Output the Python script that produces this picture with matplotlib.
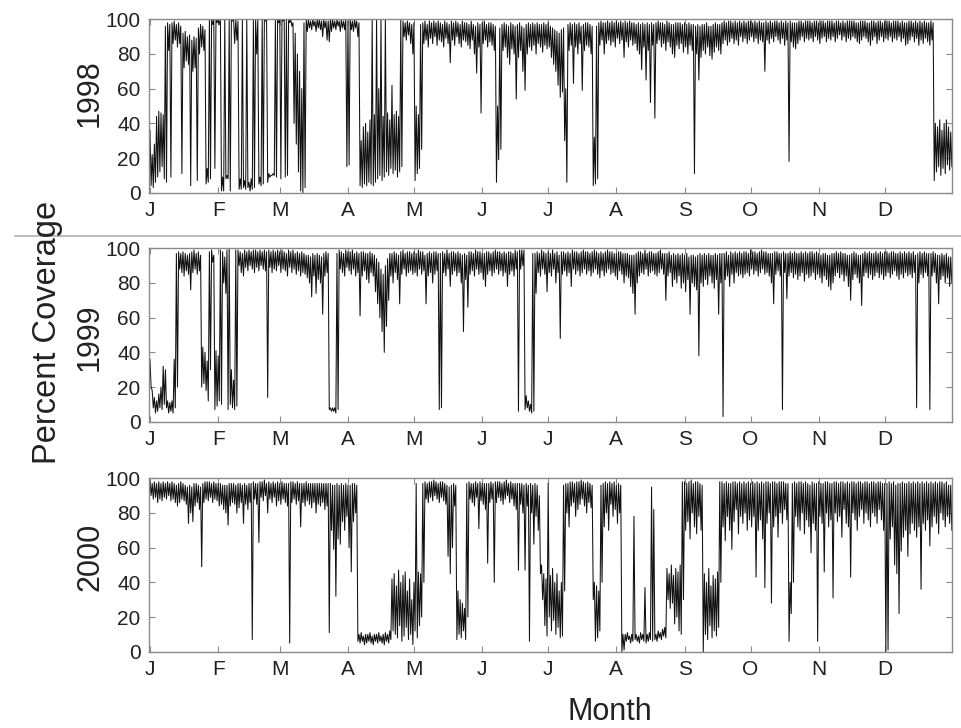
import numpy as np
import matplotlib
matplotlib.use('Agg')
import matplotlib.pyplot as plt
from matplotlib.lines import Line2D

plt.rcParams['font.family'] = ['Liberation Sans', 'DejaVu Sans']

# daily low / high percent coverage (day 1..365)
lo_1998 = [4, 3, 6, 9, 12, 15, 8, 6, 82, 9,
           86, 88, 84, 86, 11, 72, 76, 74, 4, 70,
           72, 7, 80, 84, 82, 5, 6, 8, 97, 14,
           98, 97, 1, 1, 8, 8, 1, 99, 86, 88,
           2, 2, 3, 2, 3, 1, 2, 3, 80, 5,
           4, 5, 99, 6, 9, 10, 10, 9, 98, 8,
           99, 9, 10, 98, 96, 40, 28, 12, 1, 0,
           3, 93, 95, 94, 96, 93, 95, 94, 90, 95,
           88, 87, 93, 95, 94, 96, 93, 95, 94, 15,
           16, 94, 93, 95, 90, 4, 3, 5, 4, 6,
           5, 4, 6, 8, 10, 7, 9, 12, 10, 14,
           11, 13, 9, 12, 15, 90, 88, 91, 86, 80,
           7, 11, 14, 25, 86, 88, 84, 89, 86, 90,
           85, 88, 87, 84, 89, 86, 75, 88, 85, 90,
           86, 84, 88, 87, 85, 83, 88, 80, 69, 84,
           46, 86, 88, 84, 87, 85, 82, 6, 19, 25,
           82, 84, 78, 74, 83, 80, 54, 78, 82, 70,
           59, 80, 84, 82, 85, 80, 86, 84, 81, 85,
           83, 84, 78, 74, 70, 62, 55, 58, 30, 6,
           82, 85, 63, 84, 80, 86, 59, 82, 85, 84,
           80, 4, 5, 8, 85, 88, 80, 86, 88, 85,
           87, 84, 89, 86, 88, 78, 87, 84, 88, 85,
           86, 82, 80, 71, 84, 65, 82, 52, 85, 43,
           86, 88, 84, 86, 82, 87, 84, 80, 78, 85,
           83, 86, 81, 84, 80, 85, 82, 11, 80, 65,
           78, 82, 80, 84, 79, 77, 81, 84, 82, 80,
           86, 88, 85, 87, 89, 86, 88, 85, 90, 87,
           89, 86, 88, 90, 87, 89, 86, 88, 87, 70,
           88, 86, 89, 87, 90, 88, 86, 89, 85, 88,
           18, 87, 84, 83, 86, 88, 90, 87, 89, 88,
           89, 87, 90, 88, 86, 89, 90, 87, 89, 88,
           90, 87, 89, 91, 88, 90, 87, 89, 88, 90,
           89, 87, 86, 88, 90, 89, 87, 85, 88, 90,
           86, 88, 90, 87, 89, 88, 90, 87, 89, 88,
           90, 87, 89, 85, 86, 88, 90, 87, 89, 85,
           88, 86, 89, 87, 85, 88, 7, 12, 15, 10,
           14, 11, 16, 13, 15]
hi_1998 = [36, 22, 28, 44, 47, 46, 45, 96, 98, 97,
           98, 99, 97, 98, 96, 92, 93, 90, 91, 88,
           90, 89, 95, 97, 96, 94, 14, 100, 100, 100,
           100, 100, 100, 9, 100, 10, 100, 100, 100, 100,
           99, 8, 100, 7, 100, 6, 8, 100, 100, 100,
           9, 100, 100, 100, 11, 10, 11, 100, 100, 100,
           100, 100, 100, 100, 100, 98, 92, 80, 70, 60,
           98, 100, 100, 99, 100, 99, 100, 100, 99, 100,
           99, 99, 100, 100, 99, 100, 99, 100, 99, 100,
           99, 100, 99, 100, 99, 98, 30, 38, 40, 35,
           42, 100, 45, 100, 60, 100, 44, 100, 46, 42,
           62, 45, 47, 44, 100, 99, 98, 99, 98, 97,
           98, 50, 45, 97, 98, 99, 97, 99, 98, 99,
           98, 99, 98, 97, 99, 98, 97, 99, 98, 99,
           98, 97, 99, 98, 98, 97, 99, 97, 96, 98,
           97, 98, 99, 97, 98, 98, 97, 96, 50, 95,
           97, 98, 97, 96, 98, 97, 96, 97, 98, 96,
           95, 97, 98, 97, 98, 97, 98, 97, 97, 98,
           97, 98, 96, 95, 94, 93, 92, 94, 95, 60,
           97, 98, 97, 98, 97, 98, 96, 97, 98, 98,
           97, 96, 32, 96, 98, 99, 98, 98, 99, 98,
           99, 98, 99, 98, 99, 98, 99, 98, 99, 98,
           98, 97, 98, 97, 98, 97, 98, 97, 98, 97,
           98, 99, 98, 98, 97, 99, 98, 97, 97, 98,
           98, 98, 97, 98, 97, 98, 97, 97, 96, 97,
           96, 97, 97, 98, 96, 96, 97, 98, 97, 97,
           98, 99, 98, 99, 99, 98, 99, 98, 99, 98,
           99, 98, 99, 99, 98, 99, 98, 99, 98, 98,
           99, 98, 99, 98, 99, 99, 98, 99, 98, 99,
           98, 99, 98, 98, 98, 99, 99, 98, 99, 99,
           99, 98, 99, 99, 98, 99, 99, 98, 99, 99,
           99, 98, 99, 99, 98, 99, 98, 99, 99, 99,
           99, 98, 98, 99, 99, 99, 98, 98, 99, 99,
           98, 99, 99, 98, 99, 99, 99, 98, 99, 99,
           99, 98, 99, 98, 98, 99, 99, 98, 99, 98,
           99, 98, 99, 98, 98, 99, 98, 40, 38, 42,
           36, 40, 42, 38, 35]

lo_1999 = [20, 8, 5, 6, 8, 7, 10, 8, 5, 6,
           5, 8, 20, 88, 86, 84, 87, 85, 76, 86,
           88, 85, 87, 20, 22, 18, 12, 30, 92, 7,
           9, 12, 10, 80, 74, 7, 10, 8, 7, 9,
           90, 86, 84, 89, 87, 90, 88, 86, 89, 87,
           90, 88, 87, 14, 89, 86, 88, 87, 90, 86,
           88, 87, 84, 89, 86, 88, 85, 87, 84, 86,
           85, 83, 80, 72, 84, 74, 82, 80, 62, 84,
           86, 7, 6, 6, 5, 7, 88, 86, 84, 89,
           87, 85, 88, 84, 86, 61, 84, 87, 82, 80,
           86, 84, 75, 68, 60, 52, 40, 55, 70, 84,
           80, 86, 82, 68, 85, 88, 84, 86, 87, 85,
           86, 84, 88, 85, 87, 68, 84, 86, 80, 85,
           87, 7, 8, 86, 84, 88, 78, 85, 87, 84,
           86, 80, 52, 82, 66, 85, 87, 84, 88, 85,
           86, 82, 78, 85, 87, 84, 86, 88, 85, 87,
           84, 86, 78, 85, 87, 84, 88, 6, 88, 90,
           7, 8, 6, 5, 6, 74, 86, 84, 88, 85,
           75, 86, 84, 88, 80, 86, 48, 85, 87, 84,
           86, 78, 88, 85, 87, 84, 86, 88, 85, 87,
           84, 86, 88, 85, 83, 87, 84, 86, 88, 85,
           86, 84, 82, 87, 85, 80, 84, 83, 78, 74,
           62, 80, 84, 86, 85, 88, 84, 86, 87, 85,
           84, 86, 88, 85, 70, 84, 86, 78, 82, 80,
           84, 77, 80, 75, 82, 62, 80, 78, 76, 38,
           80, 78, 82, 79, 84, 80, 77, 82, 62, 80,
           3, 82, 84, 78, 85, 80, 86, 84, 85, 83,
           85, 86, 84, 88, 85, 87, 84, 86, 88, 85,
           86, 84, 80, 68, 85, 87, 84, 7, 86, 71,
           84, 86, 83, 85, 82, 84, 86, 81, 85, 83,
           84, 86, 82, 85, 83, 80, 84, 82, 78, 76,
           80, 84, 86, 83, 85, 81, 84, 78, 70, 82,
           85, 83, 80, 67, 84, 86, 83, 85, 82, 84,
           86, 83, 85, 82, 84, 86, 83, 85, 87, 84,
           82, 85, 83, 86, 84, 85, 83, 86, 8, 80,
           85, 83, 86, 84, 7, 84, 86, 80, 68, 82,
           84, 80, 83, 78, 80]
hi_1999 = [36, 18, 14, 12, 16, 20, 32, 30, 12, 11,
           12, 36, 97, 98, 97, 98, 97, 96, 97, 98,
           99, 97, 98, 96, 43, 40, 35, 98, 99, 96,
           41, 38, 99, 98, 95, 99, 100, 30, 24, 99,
           99, 98, 97, 99, 98, 99, 98, 99, 99, 98,
           99, 98, 99, 98, 99, 98, 99, 98, 99, 98,
           99, 98, 97, 99, 98, 99, 97, 98, 97, 98,
           97, 96, 96, 95, 97, 96, 97, 96, 95, 97,
           98, 97, 8, 8, 8, 97, 99, 98, 97, 99,
           98, 98, 99, 97, 98, 97, 98, 98, 97, 97,
           98, 97, 96, 94, 92, 88, 85, 90, 94, 97,
           97, 98, 97, 96, 98, 99, 97, 98, 98, 97,
           98, 97, 99, 98, 98, 96, 97, 98, 97, 98,
           98, 97, 97, 98, 97, 99, 97, 98, 98, 97,
           98, 97, 96, 97, 96, 98, 98, 97, 99, 98,
           98, 97, 97, 98, 98, 97, 98, 99, 98, 98,
           97, 98, 97, 98, 98, 97, 99, 98, 99, 99,
           99, 15, 12, 10, 97, 97, 98, 97, 99, 98,
           97, 98, 97, 99, 97, 98, 96, 98, 98, 97,
           98, 97, 99, 98, 98, 97, 98, 99, 98, 98,
           97, 98, 99, 98, 97, 98, 97, 98, 99, 98,
           98, 97, 97, 98, 98, 97, 97, 97, 96, 96,
           96, 97, 98, 98, 97, 99, 97, 98, 98, 97,
           97, 98, 99, 97, 97, 97, 98, 96, 97, 96,
           97, 96, 97, 96, 97, 95, 96, 96, 95, 96,
           97, 96, 97, 96, 97, 96, 96, 97, 96, 97,
           97, 97, 98, 96, 98, 97, 98, 97, 98, 97,
           98, 98, 97, 99, 98, 98, 97, 98, 99, 98,
           98, 97, 97, 97, 98, 98, 97, 97, 98, 97,
           97, 98, 97, 98, 97, 97, 98, 97, 98, 97,
           98, 98, 97, 98, 97, 96, 97, 97, 96, 96,
           97, 97, 98, 97, 98, 97, 97, 96, 96, 97,
           98, 97, 96, 96, 97, 98, 97, 98, 97, 97,
           98, 97, 98, 97, 98, 98, 97, 98, 98, 97,
           97, 98, 97, 98, 97, 98, 97, 98, 96, 97,
           98, 97, 98, 97, 97, 97, 98, 97, 96, 96,
           97, 96, 97, 95, 95]

lo_2000 = [90, 88, 89, 86, 88, 87, 89, 88, 90, 87,
           88, 86, 84, 86, 88, 87, 85, 74, 80, 75,
           84, 86, 82, 49, 86, 88, 87, 89, 86, 88,
           87, 84, 85, 82, 80, 73, 84, 86, 85, 80,
           83, 86, 74, 85, 82, 86, 7, 88, 85, 63,
           89, 87, 90, 80, 88, 86, 89, 84, 87, 85,
           88, 86, 84, 5, 86, 88, 85, 87, 72, 86,
           84, 87, 85, 83, 86, 80, 85, 84, 86, 82,
           84, 11, 70, 59, 32, 65, 62, 75, 70, 78,
           60, 46, 75, 80, 6, 5, 6, 4, 5, 6,
           5, 4, 6, 5, 6, 5, 4, 6, 5, 7,
           12, 10, 8, 15, 6, 9, 14, 7, 10, 4,
           12, 8, 15, 20, 40, 88, 86, 89, 87, 90,
           88, 86, 89, 87, 85, 55, 45, 60, 84, 7,
           10, 8, 12, 7, 20, 88, 86, 84, 89, 71,
           87, 85, 82, 51, 86, 88, 40, 86, 89, 87,
           85, 88, 90, 86, 88, 84, 82, 47, 85, 80,
           47, 84, 6, 80, 62, 78, 70, 45, 30, 15,
           9, 20, 12, 18, 10, 14, 8, 9, 35, 80,
           72, 84, 86, 78, 82, 85, 88, 84, 80, 86,
           83, 30, 6, 8, 12, 40, 72, 80, 70, 85,
           78, 82, 74, 80, 0, 1, 6, 7, 5, 6,
           7, 6, 5, 7, 6, 5, 6, 7, 6, 7,
           6, 8, 7, 9, 8, 30, 25, 28, 16, 20,
           12, 10, 30, 70, 75, 65, 80, 72, 68, 78,
           70, 0, 10, 7, 15, 8, 12, 9, 14, 40,
           72, 64, 78, 70, 59, 75, 82, 68, 78, 74,
           80, 70, 76, 72, 78, 43, 70, 76, 65, 37,
           74, 80, 28, 72, 78, 66, 80, 74, 82, 76,
           6, 22, 40, 78, 72, 70, 80, 68, 76, 72,
           57, 74, 70, 6, 78, 74, 46, 80, 72, 76,
           31, 80, 75, 78, 66, 82, 74, 72, 43, 80,
           76, 70, 78, 82, 74, 80, 76, 72, 80, 78,
           74, 82, 76, 70, 0, 1, 65, 72, 50, 45,
           22, 58, 66, 70, 55, 68, 74, 70, 66, 72,
           36, 74, 70, 76, 61, 72, 78, 74, 68, 80,
           76, 72, 78, 74, 70]
hi_2000 = [98, 97, 98, 97, 98, 97, 98, 97, 98, 97,
           98, 97, 96, 97, 98, 97, 96, 95, 96, 95,
           97, 97, 96, 95, 97, 98, 98, 98, 97, 98,
           97, 97, 97, 96, 96, 96, 97, 97, 97, 96,
           97, 97, 96, 97, 96, 97, 97, 98, 97, 97,
           98, 98, 99, 97, 98, 97, 98, 97, 98, 97,
           98, 97, 97, 97, 98, 98, 97, 98, 97, 97,
           97, 98, 97, 97, 97, 97, 97, 97, 97, 97,
           97, 97, 97, 96, 96, 97, 96, 97, 96, 97,
           96, 96, 97, 97, 96, 10, 11, 9, 10, 10,
           11, 9, 10, 10, 11, 9, 10, 11, 10, 12,
           42, 45, 38, 47, 40, 44, 46, 35, 42, 30,
           40, 97, 46, 45, 97, 98, 97, 98, 98, 99,
           98, 97, 98, 98, 97, 96, 95, 96, 97, 96,
           35, 30, 28, 25, 97, 98, 97, 97, 98, 97,
           98, 97, 97, 97, 97, 98, 97, 98, 98, 98,
           97, 98, 99, 97, 98, 97, 97, 97, 97, 97,
           96, 97, 96, 97, 96, 97, 96, 90, 50, 45,
           42, 97, 44, 48, 40, 45, 35, 40, 96, 97,
           97, 98, 98, 97, 98, 98, 99, 98, 97, 98,
           97, 96, 40, 38, 35, 96, 97, 98, 97, 98,
           97, 98, 96, 97, 96, 10, 10, 11, 9, 10,
           78, 10, 9, 11, 10, 37, 10, 11, 95, 82,
           10, 12, 11, 13, 14, 48, 45, 50, 44, 48,
           46, 50, 98, 98, 97, 98, 99, 97, 98, 98,
           97, 96, 45, 40, 48, 38, 44, 42, 46, 98,
           98, 97, 98, 97, 97, 98, 98, 97, 98, 97,
           98, 97, 98, 97, 98, 97, 98, 97, 98, 97,
           98, 98, 97, 98, 98, 97, 98, 98, 98, 97,
           97, 40, 97, 98, 97, 98, 98, 97, 98, 97,
           96, 98, 97, 97, 98, 97, 97, 98, 98, 97,
           97, 98, 98, 97, 98, 98, 97, 98, 97, 98,
           98, 97, 98, 98, 97, 98, 98, 97, 98, 98,
           97, 98, 98, 97, 97, 97, 98, 97, 98, 96,
           97, 97, 98, 97, 97, 98, 97, 98, 97, 98,
           97, 98, 97, 98, 97, 98, 97, 98, 97, 98,
           98, 97, 98, 96, 96]

years = ['1998', '1999', '2000']
lows = [lo_1998, lo_1999, lo_2000]
highs = [hi_1998, hi_1999, hi_2000]

month_labels = ['J', 'F', 'M', 'A', 'M', 'J', 'J', 'A', 'S', 'O', 'N', 'D']
month_starts = [1, 32, 60, 91, 121, 152, 182, 213, 244, 274, 305, 335]

W, H = 962, 728
fig = plt.figure(figsize=(W / 100, H / 100), dpi=100)

# panel pixel boxes (top, bottom)
boxes = [(19.3, 192.7), (248.3, 421.7), (478.3, 651.7)]
left_px, right_px = 149, 952.5
year_y = [93, 337, 557]

frame_col = '#8a8a8a'
for yr, lo, hi, (top, bot), ycen in zip(years, lows, highs, boxes, year_y):
    ax = fig.add_axes([left_px / W, 1 - bot / H, (right_px - left_px) / W, (bot - top) / H])
    lo = np.array(lo, dtype=float)
    hi = np.array(hi, dtype=float)
    days = np.arange(1, len(lo) + 1)
    # trace alternates between each day's high and low reading
    x = np.column_stack((days, days + 0.5)).ravel()
    y = np.column_stack((hi, lo)).ravel()
    ax.plot(x, y, color='#111111', lw=0.75)
    ax.set_xlim(0.55, 365.8)
    ax.set_ylim(0, 100)
    ax.set_yticks([0, 20, 40, 60, 80, 100])
    ax.set_xticks(month_starts)
    ax.set_xticklabels(month_labels)
    ax.tick_params(direction='in', top=True, right=True, length=4, width=0.8,
                   color=frame_col, labelcolor='#222222', labelsize=15, pad=6)
    for s in ax.spines.values():
        s.set_color(frame_col)
        s.set_linewidth(1.0)
    fig.text(90 / W, 1 - ycen / H, yr, rotation=90, ha='center', va='center',
             fontsize=22, color='#222222')

fig.text(48 / W, 1 - 332 / H, 'Percent Coverage', rotation=90, ha='center',
         va='center', fontsize=23.5, color='#222222')
fig.text(610 / W, 1 - 712 / H, 'Month', ha='center', va='center',
         fontsize=22, color='#222222')

# thin grey separator between the first and second panel
fig.add_artist(Line2D([15 / W, 1.0], [1 - 235.5 / H, 1 - 235.5 / H],
                      transform=fig.transFigure, color='#b0b0b0', lw=1.2))

fig.savefig('out.png', dpi=100)
